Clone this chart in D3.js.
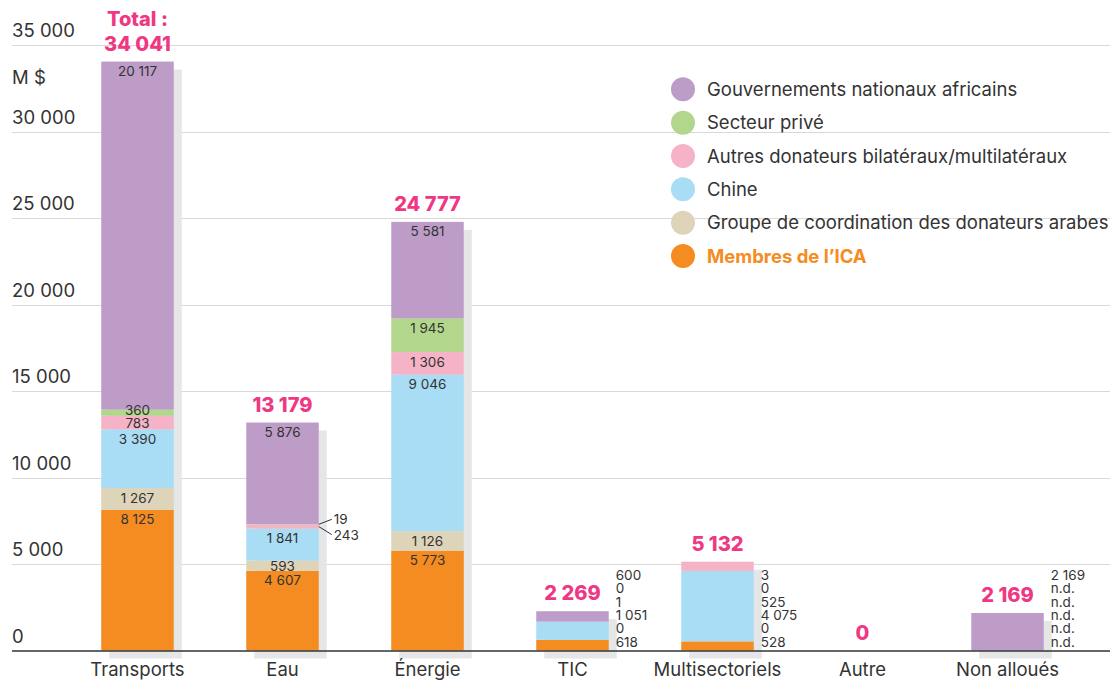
<!DOCTYPE html>
<html>
<head>
<meta charset="utf-8">
<script src="https://cdn.jsdelivr.net/npm/d3@7"></script>
<style>
  body { margin: 0; background: #fff; }
  svg text { font-family: Inter, "Noto Sans", sans-serif; }
</style>
</head>
<body>
<svg id="chart" width="1110" height="680"></svg>
<script>
// categories and series (stack order bottom -> top), null = n.d.
var categories = ["Transports", "Eau", "Énergie", "TIC", "Multisectoriels", "Autre", "Non alloués"];
var seriesNames = ["Membres de l’ICA", "Groupe de coordination des donateurs arabes", "Chine",
  "Autres donateurs bilatéraux/multilatéraux", "Secteur privé", "Gouvernements nationaux africains"];
var ica      = [8125, 4607, 5773, 618, 528, 0, null];
var arabes   = [1267, 593, 1126, 0, 0, 0, null];
var chine    = [3390, 1841, 9046, 1051, 4075, 0, null];
var autres   = [783, 243, 1306, 1, 525, 0, null];
var prive    = [360, 19, 1945, 0, 0, 0, null];
var gouv     = [20117, 5876, 5581, 600, 3, 0, 2169];
var totals   = [34041, 13179, 24777, 2269, 5132, 0, 2169];
var yTicks   = [0, 5000, 10000, 15000, 20000, 25000, 30000, 35000];
// how values are labelled for each category
var labelMode = ["inside", "inside", "inside", "side", "side", "none", "side"];

var colors = ["#f48c21", "#ded4ba", "#a8ddf5", "#f6b3c7", "#b3d68d", "#be9cc8"];
var pink = "#ef3883";
var textCol = "#333";
var big = 18.5, small = 13.5;

var series = [ica, arabes, chine, autres, prive, gouv];
var loc = d3.formatLocale({decimal: ",", thousands: " ", grouping: [3], currency: ["", " $"]});
var fmtSp = loc.format(",d");

var svg = d3.select("#chart");
var W = 1110;

var x = d3.scaleBand().domain(categories).range([65, 1080]).paddingInner(0.5).paddingOuter(0.25);
var y = d3.scaleLinear().domain([0, 35000]).range([650.5, 45]);

// gridlines + tick labels
svg.selectAll("line.grid").data(yTicks.filter(function(d){ return d > 0; })).enter()
  .append("line").attr("class", "grid")
  .attr("x1", 12).attr("x2", W)
  .attr("y1", function(d){ return Math.round(y(d)) + 0.5; })
  .attr("y2", function(d){ return Math.round(y(d)) + 0.5; })
  .attr("stroke", "#d9d9d9").attr("stroke-width", 1);

svg.selectAll("text.ytick").data(yTicks).enter()
  .append("text").attr("class", "ytick")
  .attr("x", 12).attr("y", function(d){ return y(d) - 8; })
  .attr("font-size", big).attr("fill", textCol)
  .text(function(d){ return fmtSp(d); });

svg.append("text").attr("x", 12).attr("y", 84)
  .attr("font-size", big).attr("fill", textCol).text("M $");

// stacked data
var rows = categories.map(function(c, i) {
  var r = {cat: c};
  series.forEach(function(s, k) { r[k] = s[i] || 0; });
  return r;
});
var stack = d3.stack().keys(d3.range(series.length))(rows);

// shadows
categories.forEach(function(c, i) {
  var top = stack[stack.length - 1][i][1];
  if (top <= 0) return;
  svg.append("rect")
    .attr("x", x(c) + 8).attr("y", y(top) + 8)
    .attr("width", x.bandwidth()).attr("height", y(0) - y(top))
    .attr("fill", "#e5e6e8");
});

// segments
svg.selectAll("g.layer").data(stack).enter().append("g")
  .attr("class", "layer").attr("fill", function(d, k){ return colors[k]; })
  .selectAll("rect").data(function(d){ return d; }).enter()
  .append("rect")
  .attr("x", function(d){ return x(d.data.cat); })
  .attr("y", function(d){ return y(d[1]); })
  .attr("width", x.bandwidth())
  .attr("height", function(d){ return Math.max(0, y(d[0]) - y(d[1])); });

// baseline
svg.append("line").attr("x1", 12).attr("x2", W)
  .attr("y1", 651).attr("y2", 651).attr("stroke", "#333").attr("stroke-width", 1.5);

// category labels
svg.selectAll("text.cat").data(categories).enter()
  .append("text").attr("class", "cat")
  .attr("x", function(d){ return x(d) + x.bandwidth() / 2; })
  .attr("y", 676).attr("text-anchor", "middle")
  .attr("font-size", big).attr("fill", textCol)
  .text(function(d){ return d; });

// value labels
categories.forEach(function(c, i) {
  var cx = x(c) + x.bandwidth() / 2;
  var right = x(c) + x.bandwidth();
  if (labelMode[i] === "inside") {
    var prevY = 1e9, outside = [];
    for (var k = 0; k < series.length; k++) {
      var seg = stack[k][i];
      var h = y(seg[0]) - y(seg[1]);
      if (h < 5) { outside.push({k: k, mid: (y(seg[0]) + y(seg[1])) / 2}); continue; }
      var cy = Math.min(y(seg[1]) + 9.5, (y(seg[0]) + y(seg[1])) / 2);
      cy = Math.min(cy, prevY - 13);
      prevY = cy;
      svg.append("text").attr("x", cx).attr("y", cy + 5)
        .attr("text-anchor", "middle").attr("font-size", small).attr("fill", textCol)
        .text(fmtSp(series[k][i]));
    }
    // tiny segments: labels to the right with leader lines
    outside.reverse().forEach(function(o, j) {
      var ly = o.mid - 5 + j * 13;
      svg.append("line").attr("x1", right).attr("y1", o.mid)
        .attr("x2", right + 13).attr("y2", ly)
        .attr("stroke", textCol).attr("stroke-width", 1);
      svg.append("text").attr("x", right + 15).attr("y", ly + 5)
        .attr("font-size", small).attr("fill", textCol).text(fmtSp(series[o.k][i]));
    });
  } else if (labelMode[i] === "side") {
    series.forEach(function(s, k) {
      svg.append("text").attr("x", right + 7).attr("y", 641.7 - k * 13.4 + 5)
        .attr("font-size", small).attr("fill", textCol)
        .text(s[i] == null ? "n.d." : fmtSp(s[i]));
    });
  }
  // totals
  var topY = y(totals[i]);
  svg.append("text").attr("x", cx).attr("y", topY - 11)
    .attr("text-anchor", "middle").attr("font-size", 20).attr("font-weight", 800)
    .attr("fill", pink).text(fmtSp(totals[i]));
  if (i === 0) {
    svg.append("text").attr("x", cx).attr("y", topY - 36)
      .attr("text-anchor", "middle").attr("font-size", 20).attr("font-weight", 800)
      .attr("fill", pink).text("Total :");
  }
});

// legend (top of stack first)
var leg = svg.append("g");
d3.range(series.length).reverse().forEach(function(k, j) {
  var ly = 89.3 + j * 33.35;
  leg.append("circle").attr("cx", 683).attr("cy", ly).attr("r", 12).attr("fill", colors[k]);
  leg.append("text").attr("x", 707).attr("y", ly + 6.5)
    .attr("font-size", big)
    .attr("font-weight", k === 0 ? 700 : 400)
    .attr("fill", k === 0 ? colors[0] : textCol)
    .text(seriesNames[k]);
});
</script>
</body>
</html>
